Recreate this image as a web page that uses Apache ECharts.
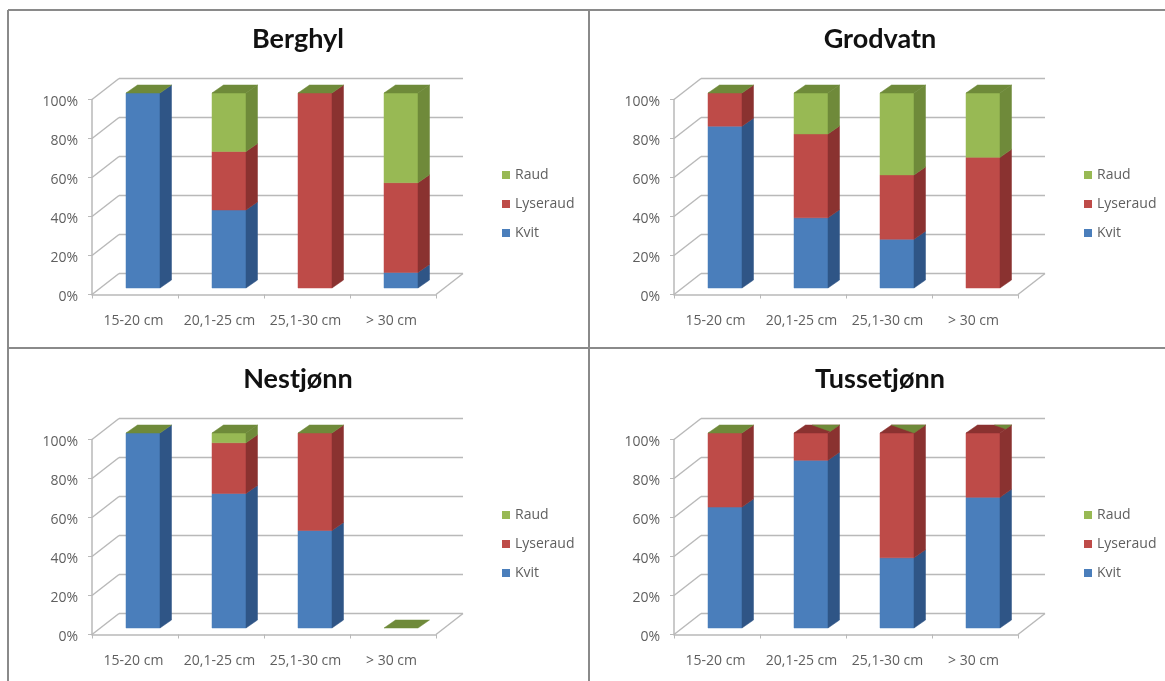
<!DOCTYPE html>
<html>
<head>
<meta charset="utf-8">
<style>html,body{margin:0;padding:0;background:#fff}#c{width:1165px;height:681px}</style>
<script src="https://cdn.jsdelivr.net/npm/echarts@6/dist/echarts.min.js"></script>
</head>
<body>
<div id="c"></div>
<script>
// Fish size classes, share of flesh colour per lake (percent)
const sizeClasses = ['15-20 cm', '20,1-25 cm', '25,1-30 cm', '> 30 cm'];
const yTicks = [0, 20, 40, 60, 80, 100];
const lakes = ['Berghyl', 'Grodvatn', 'Nestjønn', 'Tussetjønn'];

const kvit = {
  Berghyl: [100, 40, 0, 8],
  Grodvatn: [83, 36, 25, 0],
  'Nestjønn': [100, 69, 50, 0],
  'Tussetjønn': [62, 86, 36, 67]
};
const lyseraud = {
  Berghyl: [0, 30, 100, 46],
  Grodvatn: [17, 43, 33, 67],
  'Nestjønn': [0, 26, 50, 0],
  'Tussetjønn': [38, 14, 64, 33]
};
const raud = {
  Berghyl: [0, 30, 0, 46],
  Grodvatn: [0, 21, 42, 33],
  'Nestjønn': [0, 5, 0, 0],
  'Tussetjønn': [0, 0, 0, 0]
};

// Panel placement
const panels = [
  { left: 92, top: 99.5 },
  { left: 674, top: 99.5 },
  { left: 92, top: 439.5 },
  { left: 674, top: 439.5 }
];
const GRID_W = 344, GRID_H = 195;

// Oblique projection offsets for the pseudo 3D look
const WALL = [27, -21];
const BAR_FRONT = [8, -6.5];
const BAR_SIDE = [11.5, -8];
const BAR_W = 34;

const TEXT = '#5f5f5f';
const FONT = '"Open Sans"';
const WALL_COLOR = '#b9b9b9';
const SHADES = {
  Kvit: { front: '#4a7ebb', side: '#2f5586' },
  Lyseraud: { front: '#be4b48', side: '#8a3230' },
  Raud: { front: '#98b954', side: '#6f8a3a' }
};
// Where red shows through the zero-height cap on Tussetjønn: size of the green corner
const capCorner = { 'Tussetjønn': [null, 0.8, 1, 0.5] };

function wallItem(params, api) {
  const v = api.value(0);
  const cs = params.coordSys;
  const y = api.coord([0, v])[1];
  const x0 = cs.x, x1 = cs.x + cs.width;
  const line = (a, b, c, d) => ({
    type: 'line',
    shape: { x1: a, y1: b, x2: c, y2: d },
    style: { stroke: WALL_COLOR, lineWidth: 1.5 }
  });
  const parts = [
    line(x0, y, x0 + WALL[0], y + WALL[1]),
    line(x0 + WALL[0], y + WALL[1], x1 + WALL[0], y + WALL[1])
  ];
  if (v === 0) parts.push(line(x1, y, x1 + WALL[0], y + WALL[1]));
  return { type: 'group', children: parts };
}

function poly(points, fill) {
  return { type: 'polygon', shape: { points }, style: { fill, stroke: fill, lineWidth: 0.5 } };
}

function barItemFor(seriesName, lake, isTop) {
  const shade = SHADES[seriesName];
  return function (params, api) {
    const cat = api.value(0), base = api.value(1), val = api.value(2);
    const c = api.coord([cat, base]);
    const t = api.coord([cat, base + val]);
    const xl = c[0] - BAR_W / 2 + BAR_FRONT[0];
    const xr = xl + BAR_W;
    const yb = c[1] + BAR_FRONT[1];
    const yt = t[1] + BAR_FRONT[1];
    const sx = BAR_SIDE[0], sy = BAR_SIDE[1];
    const parts = [];
    if (val > 0) {
      parts.push(poly([[xl, yt], [xr, yt], [xr, yb], [xl, yb]], shade.front));
      parts.push(poly([[xr, yt], [xr + sx, yt + sy], [xr + sx, yb + sy], [xr, yb]], shade.side));
    }
    if (isTop) {
      const A = [xl, yt], B = [xr, yt], C = [xr + sx, yt + sy], D = [xl + sx, yt + sy];
      const corner = capCorner[lake] && capCorner[lake][cat];
      if (corner != null) {
        const lerp = (p, q, s) => [p[0] + (q[0] - p[0]) * s, p[1] + (q[1] - p[1]) * s];
        parts.push(poly([A, B, C, D], SHADES.Lyseraud.side));
        parts.push(poly([lerp(C, D, corner), C, lerp(C, B, corner)], shade.side));
      } else {
        parts.push(poly([A, B, C, D], shade.side));
      }
    }
    return { type: 'group', children: parts };
  };
}

const grid = [], xAxis = [], yAxis = [], series = [], title = [], legend = [];

lakes.forEach((lake, i) => {
  const p = panels[i];
  grid.push({ left: p.left, top: p.top, width: GRID_W, height: GRID_H, containLabel: false });
  xAxis.push({
    type: 'category', gridIndex: i, data: sizeClasses,
    axisLine: { lineStyle: { color: WALL_COLOR, width: 1.5 } },
    axisTick: { show: true, length: 4, alignWithLabel: false, lineStyle: { color: WALL_COLOR } },
    axisLabel: { color: TEXT, fontFamily: FONT, fontSize: 14, margin: 20, interval: 0, padding: [0, 3, 0, 0] },
    splitLine: { show: false }
  });
  yAxis.push({
    type: 'value', gridIndex: i, min: 0, max: 100, interval: 20,
    axisLine: { show: true, lineStyle: { color: WALL_COLOR, width: 1.5 } },
    axisTick: { show: true, length: 4, lineStyle: { color: WALL_COLOR } },
    axisLabel: {
      margin: 14,
      formatter: v => `{pct|${v}%}`,
      rich: { pct: { color: TEXT, fontFamily: FONT, fontSize: 14, lineHeight: 14, padding: [6, 0, 0, 0] } }
    },
    splitLine: { show: false }
  });
  title.push({
    text: lake, left: p.left + 201, top: Math.round(p.top - 79), textAlign: 'center',
    textStyle: { color: '#111', fontFamily: 'Lato', fontWeight: 'bold', fontSize: 27 }
  });
  legend.push({
    orient: 'vertical', left: p.left + 405, top: Math.round(p.top + 62),
    data: ['Raud', 'Lyseraud', 'Kvit'], icon: 'rect',
    itemWidth: 8, itemHeight: 8, itemGap: 13,
    selectedMode: false,
    textStyle: { color: TEXT, fontFamily: FONT, fontSize: 14, lineHeight: 16 }
  });

  series.push({
    type: 'custom', xAxisIndex: i, yAxisIndex: i, z: 1, silent: true, clip: false,
    renderItem: wallItem,
    encode: { y: 0 },
    data: yTicks.map(v => [v])
  });

  const stacks = [['Kvit', kvit[lake]], ['Lyseraud', lyseraud[lake]], ['Raud', raud[lake]]];
  const running = sizeClasses.map(() => 0);
  stacks.forEach(([name, values], s) => {
    const rows = values.map((v, k) => {
      const row = [k, running[k], v];
      running[k] += v;
      return row;
    });
    series.push({
      name, type: 'custom', xAxisIndex: i, yAxisIndex: i, z: 2 + s, silent: true, clip: false,
      itemStyle: { color: SHADES[name].front },
      renderItem: barItemFor(name, lake, name === 'Raud'),
      encode: { x: 0, y: 2 },
      data: rows
    });
  });
});

// Thin frames that separate the four panels
const frame = [
  [8, 10, 1165, 10], [8, 10, 8, 681], [589, 10, 589, 681], [8, 348, 1165, 348]
].map(([x1, y1, x2, y2]) => ({
  type: 'line', shape: { x1, y1, x2, y2 }, style: { stroke: '#8a8a8a', lineWidth: 2 }, silent: true
}));

const chart = echarts.init(document.getElementById('c'));
chart.setOption({
  animation: false,
  backgroundColor: '#ffffff',
  tooltip: { show: false },
  grid, xAxis, yAxis, title, legend, series,
  graphic: frame
});
</script>
</body>
</html>
